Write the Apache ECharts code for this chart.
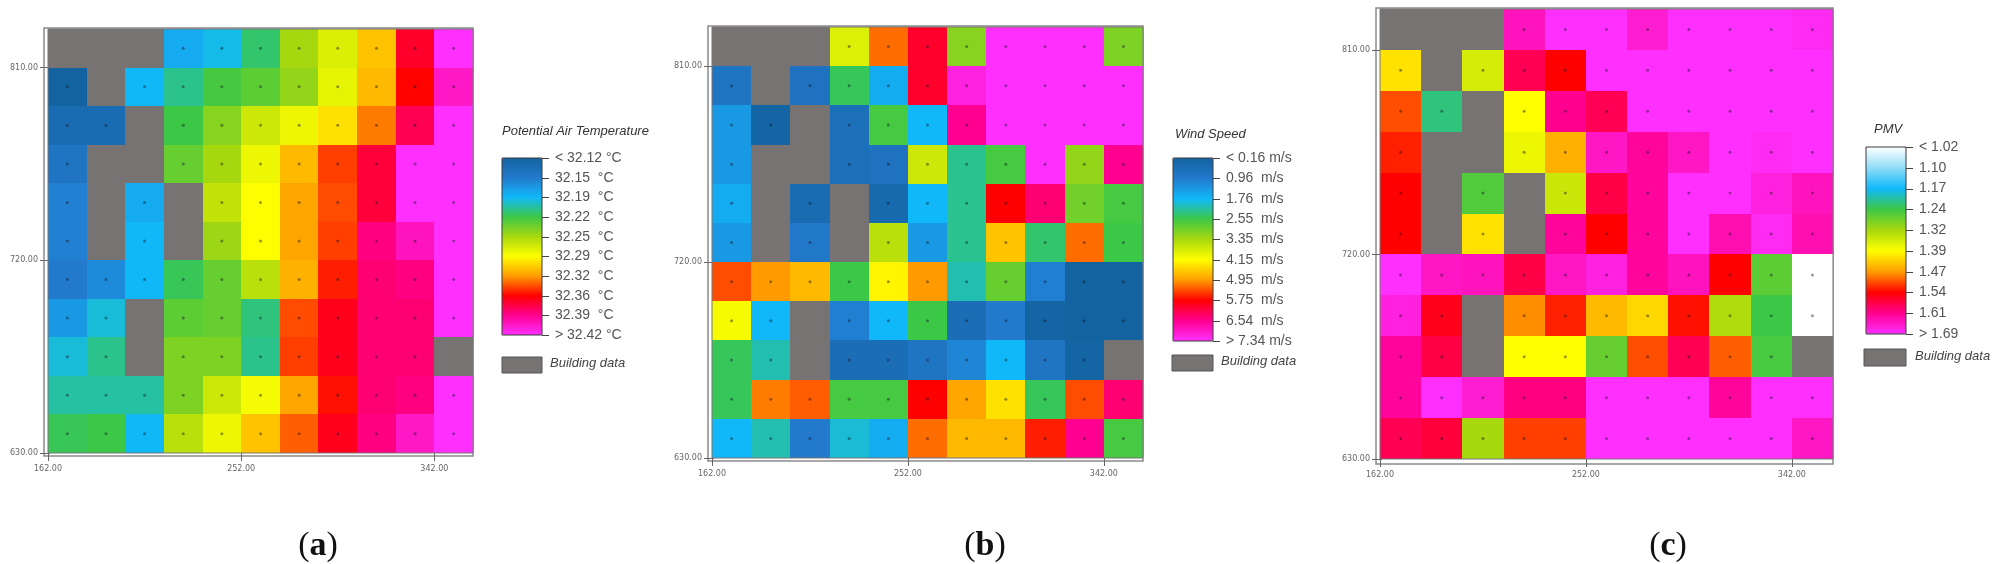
<!DOCTYPE html>
<html>
<head>
<meta charset="utf-8" />
<script src="https://cdn.jsdelivr.net/npm/echarts@6/dist/echarts.min.js"></script>
<title></title>
<style>
  html, body { margin: 0; padding: 0; background: #fff; }
  #chartmain { width: 2000px; height: 564px; }
</style>
</head>
<body>
<div id="chartmain"></div>
<script type="text/javascript">
// cell centres, rows run top to bottom
var xCenters = [171, 189, 207, 225, 243, 261, 279, 297, 315, 333, 351];
var yCenters = [819, 801, 783, 765, 747, 729, 711, 693, 675, 657, 639];
var xTicks = [162, 252, 342];
var yTicks = [630, 720, 810];
var xMinorTicks = [162, 180, 198, 216, 234, 252, 270, 288, 306, 324, 342];
var yMinorTicks = [630, 648, 666, 684, 702, 720, 738, 756, 774, 792, 810];

// null = building
var temperature = [
  [null, null, null, 32.180, 32.190, 32.213, 32.253, 32.273, 32.307, 32.363, 32.420],
  [32.120, null, 32.187, 32.207, 32.223, 32.230, 32.247, 32.277, 32.310, 32.353, 32.403],
  [32.133, 32.133, null, 32.220, 32.243, 32.267, 32.280, 32.297, 32.327, 32.373, 32.420],
  [32.147, null, null, 32.233, 32.253, 32.280, 32.310, 32.340, 32.367, 32.420, 32.420],
  [32.157, null, 32.180, null, 32.263, 32.287, 32.317, 32.337, 32.367, 32.420, 32.420],
  [32.157, null, 32.187, null, 32.250, 32.287, 32.317, 32.340, 32.383, 32.400, 32.420],
  [32.153, 32.163, 32.187, 32.217, 32.233, 32.260, 32.313, 32.347, 32.380, 32.383, 32.420],
  [32.170, 32.193, null, 32.230, 32.233, 32.210, 32.337, 32.360, 32.380, 32.380, 32.420],
  [32.193, 32.207, null, 32.240, 32.240, 32.207, 32.340, 32.360, 32.380, 32.380, null],
  [32.203, 32.203, 32.203, 32.240, 32.267, 32.283, 32.317, 32.350, 32.380, 32.383, 32.420],
  [32.217, 32.220, 32.187, 32.260, 32.280, 32.307, 32.333, 32.360, 32.383, 32.403, 32.420]
];
var windSpeed = [
  [null, null, null, 3.83, 5.19, 5.99, 3.11, 7.34, 7.34, 7.34, 3.03],
  [0.80, null, 0.72, 2.47, 1.60, 5.99, 7.10, 7.34, 7.34, 7.34, 7.34],
  [1.36, 0.24, null, 0.64, 2.63, 1.76, 6.54, 7.34, 7.34, 7.34, 7.34],
  [1.36, null, null, 0.64, 0.72, 3.67, 2.23, 2.63, 7.34, 3.19, 6.54],
  [1.60, null, 0.48, null, 0.40, 1.76, 2.23, 5.75, 6.38, 2.95, 2.63],
  [1.36, null, 0.88, null, 3.51, 1.36, 2.23, 4.63, 2.39, 5.19, 2.55],
  [5.35, 4.95, 4.71, 2.55, 4.23, 4.95, 2.08, 2.87, 1.04, 0.16, 0.16],
  [4.07, 1.76, null, 1.04, 1.76, 2.55, 0.56, 0.96, 0.24, 0.16, 0.16],
  [2.47, 2.08, null, 0.56, 0.56, 0.80, 1.12, 1.76, 0.80, 0.24, null],
  [2.47, 5.11, 5.27, 2.63, 2.63, 5.75, 4.87, 4.39, 2.47, 5.35, 6.38],
  [1.76, 2.08, 0.96, 1.92, 1.60, 5.19, 4.71, 4.71, 5.59, 6.54, 2.63]
];
var pmv = [
  [null, null, null, 1.645, 1.690, 1.690, 1.660, 1.690, 1.690, 1.690, 1.682],
  [1.414, null, 1.355, 1.585, 1.541, 1.690, 1.690, 1.690, 1.690, 1.690, 1.690],
  [1.504, 1.221, null, 1.392, 1.615, 1.585, 1.690, 1.690, 1.690, 1.690, 1.690],
  [1.526, null, null, 1.377, 1.452, 1.652, 1.623, 1.652, 1.690, 1.682, 1.690],
  [1.541, null, 1.258, null, 1.347, 1.578, 1.623, 1.690, 1.690, 1.667, 1.645],
  [1.541, null, 1.414, null, 1.623, 1.541, 1.623, 1.690, 1.638, 1.682, 1.638],
  [1.690, 1.652, 1.645, 1.578, 1.652, 1.667, 1.623, 1.645, 1.541, 1.266, 1.020],
  [1.667, 1.556, null, 1.474, 1.526, 1.444, 1.422, 1.533, 1.325, 1.243, 1.020],
  [1.623, 1.578, null, 1.392, 1.392, 1.273, 1.504, 1.585, 1.496, 1.251, null],
  [1.623, 1.690, 1.660, 1.608, 1.608, 1.690, 1.690, 1.690, 1.623, 1.690, 1.690],
  [1.585, 1.571, 1.318, 1.511, 1.511, 1.690, 1.690, 1.690, 1.690, 1.690, 1.652]
];

var tempLabels = ['< 32.12 °C', '32.15  °C', '32.19  °C', '32.22  °C', '32.25  °C', '32.29  °C', '32.32  °C', '32.36  °C', '32.39  °C', '> 32.42 °C'];
var windLabels = ['< 0.16 m/s', '0.96  m/s', '1.76  m/s', '2.55  m/s', '3.35  m/s', '4.15  m/s', '4.95  m/s', '5.75  m/s', '6.54  m/s', '> 7.34 m/s'];
var pmvLabels = ['< 1.02', '1.10', '1.17', '1.24', '1.32', '1.39', '1.47', '1.54', '1.61', '> 1.69'];

var blueColors = ['#12639f', '#2379cc', '#10b8fa', '#3cc846', '#a8d80e', '#ffff00', '#ff9c00', '#ff0000', '#ff0090', '#ff30ff'];
var whiteColors = ['#ffffff', '#90dcf8', '#10b8fa', '#3cc846', '#a8d80e', '#ffff00', '#ff9c00', '#ff0000', '#ff0090', '#ff30ff'];

var buildingColor = '#787373';

var panels = [
  { values: temperature, min: 32.12, max: 32.42, colors: blueColors, labels: tempLabels, name: 'Potential Air Temperature', tag: 'a', tagX: 313,
    plot: [48, 29, 425, 424], frame: [44, 28, 429, 428], bar: [502, 158, 40, 177], titleXY: [502, 133], swatch: [502, 357, 40, 16], swatchTextX: 550 },
  { values: windSpeed, min: 0.16, max: 7.34, colors: blueColors, labels: windLabels, name: 'Wind Speed', tag: 'b', tagX: 980,
    plot: [712, 27, 431, 431], frame: [708, 26, 435, 435], bar: [1173, 158, 40, 183], titleXY: [1175, 136], swatch: [1172, 355, 41, 16], swatchTextX: 1221 },
  { values: pmv, min: 1.02, max: 1.69, colors: whiteColors, labels: pmvLabels, name: 'PMV', tag: 'c', tagX: 1663,
    plot: [1380, 9, 453, 450], frame: [1376, 8, 457, 456], bar: [1866, 147, 40, 187], titleXY: [1874, 131], swatch: [1864, 349, 42, 17], swatchTextX: 1915 }
];

function cellItem(params, api) {
  var cx = api.value(0), cy = api.value(1);
  var a = api.coord([cx - 9, cy + 9]);
  var b = api.coord([cx + 9, cy - 9]);
  var x0 = Math.round(a[0]), y0 = Math.round(a[1]);
  return {
    type: 'rect',
    shape: { x: x0, y: y0, width: Math.round(b[0]) - x0, height: Math.round(b[1]) - y0 },
    style: { fill: api.visual('color') }
  };
}

// colour bar tick, drawn out from the right edge of the bar
function barTickItem(params, api) {
  var p = api.coord([1, api.value(0)]);
  var y = Math.round(p[1]) + 0.5;
  return {
    type: 'line',
    shape: { x1: p[0], y1: y, x2: p[0] + 7, y2: y },
    style: { stroke: '#444', lineWidth: 1 }
  };
}

function rectPos(r) {
  return { left: r[0], top: r[1], width: r[2], height: r[3] };
}

var grid = [], xAxis = [], yAxis = [], series = [], visualMap = [], graphic = [], title = [];
var axisFont = { color: '#666', fontSize: 8, fontFamily: 'DejaVu Sans' };
var tickStyle = { color: '#666', width: 1 };

panels.forEach(function (p) {
  // outer gray frame
  var f = rectPos(p.frame);
  f.show = true; f.borderColor = '#8a8a8a'; f.borderWidth = 1.5; f.backgroundColor = 'transparent';
  grid.push(f);

  // plot grid
  var g = rectPos(p.plot);
  g.show = true; g.borderColor = '#777'; g.borderWidth = 1; g.backgroundColor = 'transparent'; g.z = 6;
  grid.push(g);
  var plotIdx = grid.length - 1;
  var xIdx = xAxis.length, yIdx = yAxis.length;

  xAxis.push({
    type: 'value', gridIndex: plotIdx, min: 162, max: 360,
    axisLine: { show: false }, splitLine: { show: false },
    axisTick: { customValues: xTicks, length: 8, lineStyle: tickStyle },
    axisLabel: Object.assign({ customValues: xTicks, margin: 12, formatter: function (v) { return v.toFixed(2); } }, axisFont)
  });
  yAxis.push({
    type: 'value', gridIndex: plotIdx, min: 630, max: 828,
    axisLine: { show: false }, splitLine: { show: false },
    axisTick: { customValues: yTicks, length: 8, lineStyle: tickStyle },
    axisLabel: Object.assign({ customValues: yTicks, margin: 10, formatter: function (v) { return v.toFixed(2); } }, axisFont)
  });
  // small inward ticks every cell
  xAxis.push({
    type: 'value', gridIndex: plotIdx, min: 162, max: 360, position: 'bottom',
    axisLine: { show: false }, splitLine: { show: false }, axisLabel: { show: false },
    axisTick: { customValues: xMinorTicks, inside: true, length: 2, lineStyle: { color: '#555' } }
  });
  yAxis.push({
    type: 'value', gridIndex: plotIdx, min: 630, max: 828, position: 'left',
    axisLine: { show: false }, splitLine: { show: false }, axisLabel: { show: false },
    axisTick: { customValues: yMinorTicks, inside: true, length: 2, lineStyle: { color: '#555' } }
  });

  var heat = [], building = [], dots = [];
  p.values.forEach(function (row, r) {
    row.forEach(function (v, c) {
      if (v === null) {
        building.push([xCenters[c], yCenters[r]]);
      } else {
        heat.push([xCenters[c], yCenters[r], v]);
        dots.push([xCenters[c], yCenters[r]]);
      }
    });
  });

  series.push({
    type: 'custom', xAxisIndex: xIdx, yAxisIndex: yIdx, clip: true, silent: true,
    renderItem: cellItem, encode: { x: 0, y: 1 }, data: heat, z: 2
  });
  visualMap.push({
    type: 'continuous', seriesIndex: series.length - 1, dimension: 2,
    min: p.min, max: p.max, inverse: true, calculable: false, hoverLink: false,
    left: p.bar[0], top: p.bar[1], itemWidth: p.bar[2], itemHeight: p.bar[3],
    padding: 0, text: null, indicatorSize: 0, inRange: { color: p.colors },
    outOfRange: { color: p.colors[p.colors.length - 1] }
  });
  series.push({
    type: 'custom', xAxisIndex: xIdx, yAxisIndex: yIdx, clip: true, silent: true,
    renderItem: cellItem, encode: { x: 0, y: 1 }, data: building, z: 2,
    itemStyle: { color: buildingColor }
  });
  series.push({
    type: 'scatter', xAxisIndex: xIdx, yAxisIndex: yIdx, silent: true,
    symbolSize: 3, data: dots, z: 3,
    itemStyle: { color: 'rgba(20,20,40,0.55)' }
  });

  // colour bar frame and its tick labels
  var b = rectPos(p.bar);
  b.show = true; b.borderColor = '#3a3a3a'; b.borderWidth = 1; b.backgroundColor = 'transparent'; b.z = 6;
  grid.push(b);
  xAxis.push({ type: 'value', gridIndex: grid.length - 1, min: 0, max: 1, show: false });
  yAxis.push({
    type: 'value', gridIndex: grid.length - 1, position: 'right', inverse: true,
    min: 0, max: p.labels.length - 1, interval: 1,
    axisLine: { show: false }, splitLine: { show: false }, axisTick: { show: false },
    axisLabel: {
      margin: 13, color: '#555', fontSize: 14, fontFamily: 'Liberation Sans', align: 'left',
      formatter: function (v) { return p.labels[v]; }
    }
  });
  series.push({
    type: 'custom', xAxisIndex: xAxis.length - 1, yAxisIndex: yAxis.length - 1, clip: false, silent: true,
    renderItem: barTickItem, encode: { y: 0 }, data: p.labels.map(function (l, i) { return [i]; }), z: 7
  });

  graphic.push({
    type: 'text', left: p.titleXY[0], top: p.titleXY[1] - 8,
    style: { text: p.name, fill: '#333', font: 'italic 13px "Liberation Sans"' }
  });
  graphic.push({
    type: 'rect', shape: { x: p.swatch[0], y: p.swatch[1], width: p.swatch[2], height: p.swatch[3] },
    style: { fill: '#777373', stroke: '#555', lineWidth: 1 }
  });
  graphic.push({
    type: 'text', left: p.swatchTextX, top: p.swatch[1] + p.swatch[3] / 2 - 8,
    style: { text: 'Building data', fill: '#444', font: 'italic 13px "Liberation Sans"' }
  });

  title.push({
    text: '{p|(}{b|' + p.tag + '}{p|)}', left: p.tagX, top: 524, textAlign: 'center',
    textStyle: { fontWeight: 'normal', rich: {
      p: { fontSize: 34, fontFamily: 'Liberation Serif', fontWeight: 'normal', color: '#111' },
      b: { fontSize: 34, fontFamily: 'Liberation Serif', fontWeight: 'bold', color: '#111' }
    } }
  });
});

var myChart = echarts.init(document.getElementById('chartmain'));
myChart.setOption({
  animation: false,
  backgroundColor: '#fff',
  title: title,
  grid: grid,
  xAxis: xAxis,
  yAxis: yAxis,
  visualMap: visualMap,
  graphic: { elements: graphic },
  series: series
});
</script>
</body>
</html>
